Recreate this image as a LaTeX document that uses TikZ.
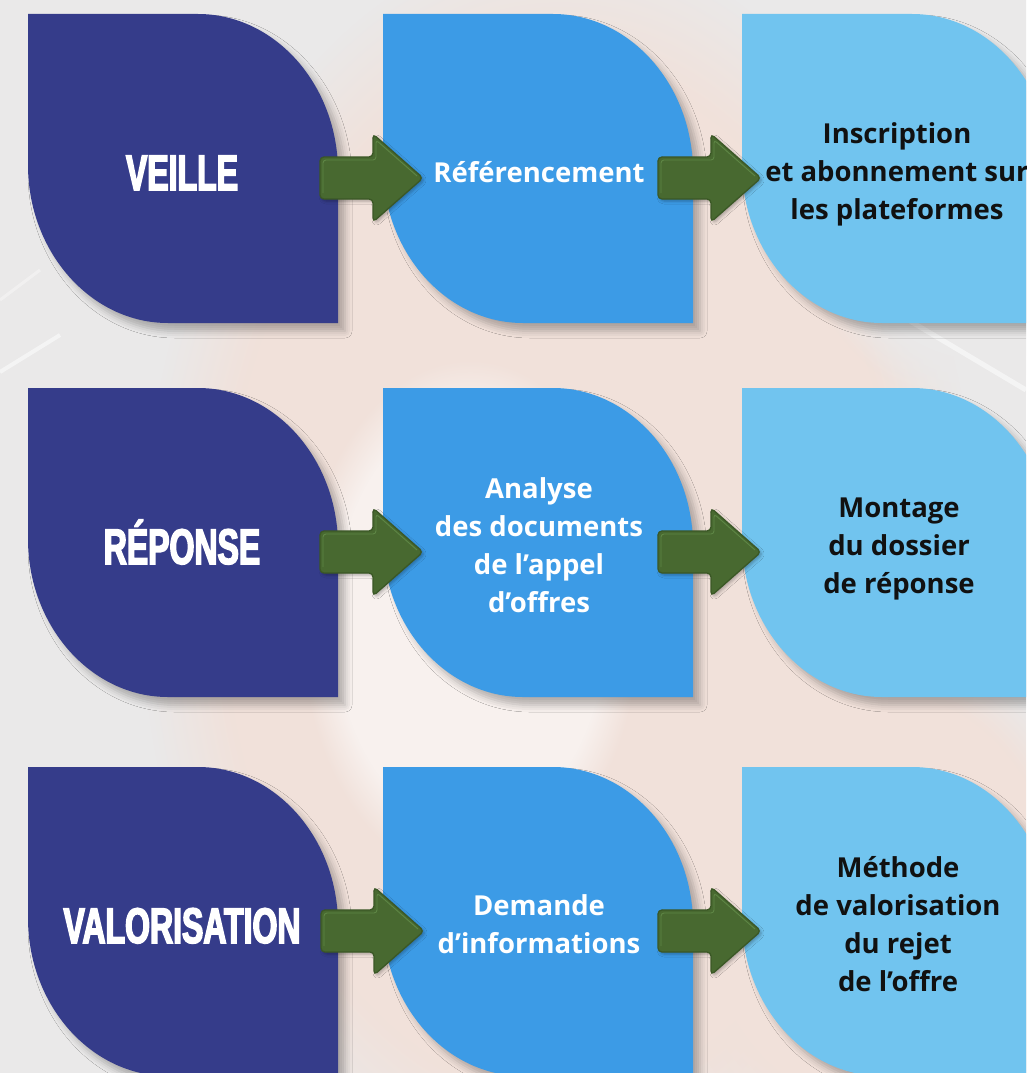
\documentclass[tikz,border=0pt]{standalone}
\usepackage{fontspec}
\setmainfont{Open Sans}
\newfontfamily\titlefont{Liberation Sans}[FakeStretch=0.64,FakeBold=3]
\newfontfamily\bodyfont{Open Sans}
\usetikzlibrary{shadows.blur,fadings}
\definecolor{navy}{HTML}{353C8A}
\definecolor{midblue}{HTML}{3C9BE6}
\definecolor{lightblue}{HTML}{71C4EF}
\definecolor{arrowgreen}{HTML}{486930}
\definecolor{arrowedge}{HTML}{3B5826}
\definecolor{arrowhi}{HTML}{5E8645}
\definecolor{bgbase}{HTML}{EAE9E9}
\definecolor{bgpink}{HTML}{F1E1DA}
\definecolor{bglight}{HTML}{F8F1EE}
\definecolor{textdark}{HTML}{111111}
\newcommand\mylines[1]{\begin{tabular}[t]{@{}c@{}}#1\end{tabular}}
\tikzset{
  leaf/.pic={
    \path[pic actions, blur shadow={shadow xshift=7pt, shadow yshift=-8pt, shadow blur radius=7pt, shadow opacity=28}]
      (0,0) -- (170,0) .. controls (247,0) and (310,71) .. (310,158)
      -- (310,309) -- (140,309) .. controls (63,309) and (0,238) .. (0,151) -- cycle;
  },
  blockarrow/.pic={
    \path[fill=arrowgreen, draw=arrowedge, line width=1.3pt, rounded corners=4pt,
      blur shadow={shadow xshift=2pt, shadow yshift=-2pt, shadow blur radius=3pt, shadow opacity=30}]
      (0,-21) -- (53,-21) -- (53,-44) -- (103,0) -- (53,44) -- (53,21) -- (0,21) -- cycle;
    \draw[arrowhi, line width=0.9pt, rounded corners=3pt]
      (3,15) -- (3,-18) -- (56,-18) -- (56,-38) -- (97,-2);
  },
  title/.style={anchor=base, inner sep=0pt, text=white,
    font=\titlefont\bfseries\fontsize{50}{50}\selectfont},
  body/.style={anchor=base, inner sep=0pt,
    font=\bodyfont\bfseries\fontsize{27.5}{38}\selectfont},
}
\begin{document}
\begin{tikzpicture}[x=1pt,y=-1pt]
\useasboundingbox (0,0) rectangle (1026,1073);
\clip (0,0) rectangle (1026,1073);
% background
\fill[bgbase] (0,0) rectangle (1026,1073);
\fill[bgpink, path fading=circle with fuzzy edge 20 percent] (560,580) ellipse (420 and 640);
\fill[bglight, path fading=circle with fuzzy edge 20 percent] (470,620) ellipse (170 and 260);
\fill[bgpink, path fading=circle with fuzzy edge 20 percent] (880,900) ellipse (220 and 260);
\fill[bgbase, path fading=circle with fuzzy edge 20 percent] (980,150) ellipse (200 and 260);
\fill[bgbase, path fading=circle with fuzzy edge 20 percent] (40,600) ellipse (120 and 500);
\draw[white, opacity=0.5, line width=4pt] (0,372) -- (60,335);
\draw[white, opacity=0.5, line width=5pt] (905,318) -- (1026,390);
\draw[white, opacity=0.35, line width=3pt] (0,300) -- (40,270);
% leaves
\pic[fill=navy] at (28,14) {leaf};
\pic[fill=midblue] at (383,14) {leaf};
\pic[fill=lightblue] at (742,14) {leaf};
\pic[fill=navy] at (28,388) {leaf};
\pic[fill=midblue] at (383,388) {leaf};
\pic[fill=lightblue] at (742,388) {leaf};
\pic[fill=navy] at (28,767) {leaf};
\pic[fill=midblue] at (383,767) {leaf};
\pic[fill=lightblue] at (742,767) {leaf};
% arrows
\pic (a11) at (320,178) {blockarrow};
\pic (a12) at (658,178) {blockarrow};
\pic (a21) at (320,552) {blockarrow};
\pic (a22) at (658,552) {blockarrow};
\pic (a31) at (321,931) {blockarrow};
\pic (a32) at (658,931) {blockarrow};
% texts
\node[title] (t1) at (182,190) {VEILLE};
\node[title] (t2) at (182,564) {RÉPONSE};
\node[title] (t3) at (182,943) {VALORISATION};
\node[body, text=white] (b12) at (539,182) {\mylines{Référencement}};
\node[body, text=textdark] (b13) at (897,143) {\mylines{Inscription\\ et abonnement sur\\les plateformes}};
\node[body, text=white] (b22) at (539,498) {\mylines{Analyse\\des documents\\de l’appel\\d’offres}};
\node[body, text=textdark] (b23) at (899,517) {\mylines{Montage\\du dossier\\de réponse}};
\node[body, text=white] (b32) at (539,915) {\mylines{Demande\\d’informations}};
\node[body, text=textdark] (b33) at (898,877) {\mylines{Méthode\\de valorisation\\du rejet\\de l’offre}};
\end{tikzpicture}
\end{document}
